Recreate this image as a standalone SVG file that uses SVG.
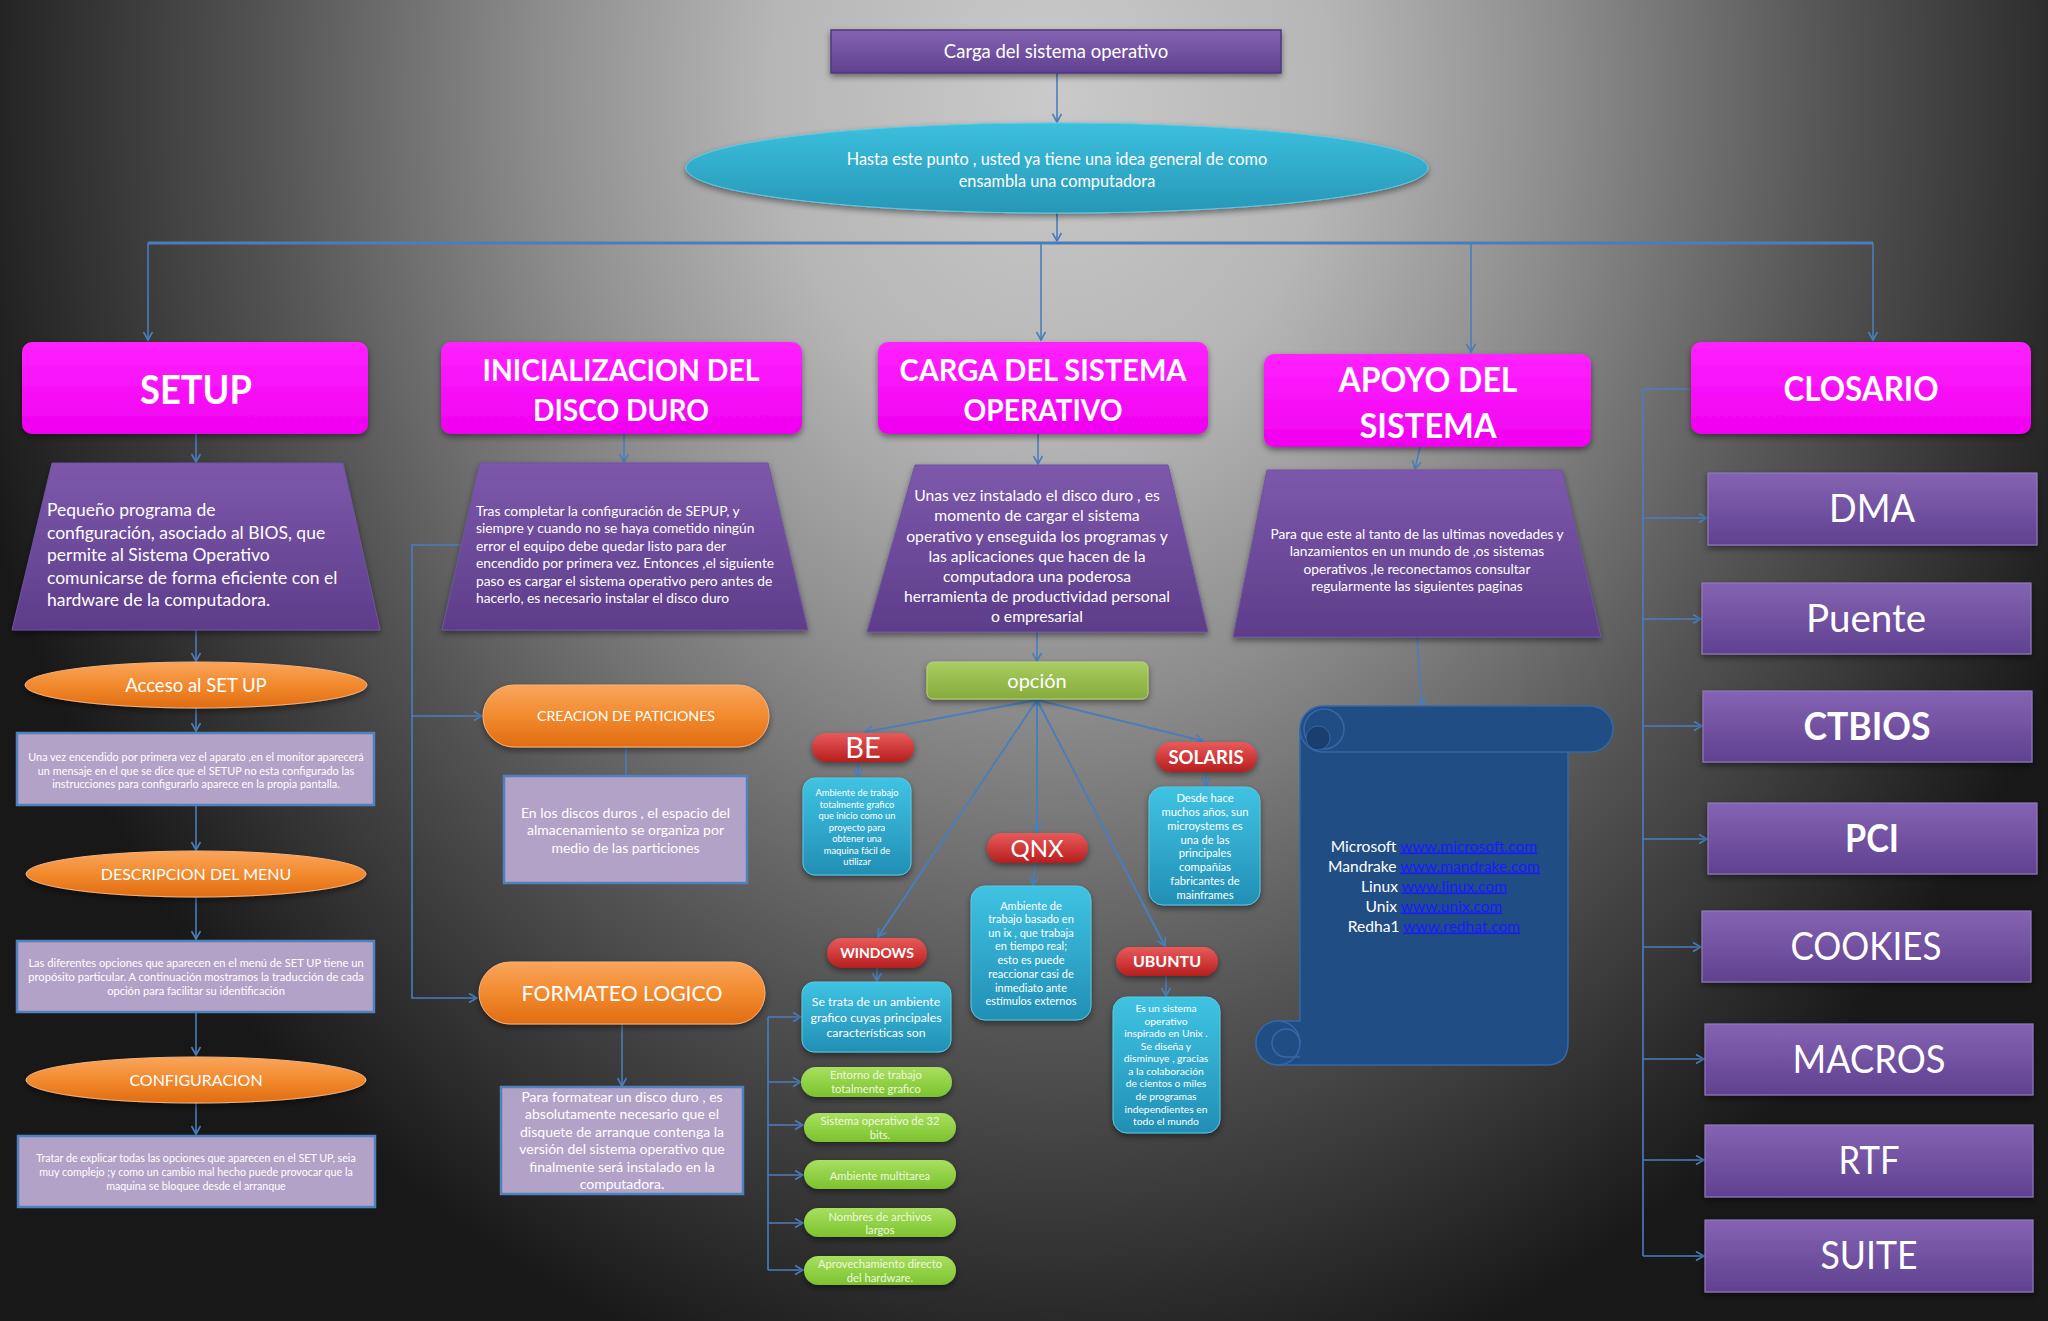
<svg xmlns="http://www.w3.org/2000/svg" width="2048" height="1321" viewBox="0 0 2048 1321">
<defs>
<radialGradient id="bg" gradientUnits="userSpaceOnUse" cx="1050" cy="90" r="1120" gradientTransform="translate(1050,90) scale(1,1.2) translate(-1050,-90)">
<stop offset="0" stop-color="#cacaca"/><stop offset="0.25" stop-color="#b6b6b6"/><stop offset="0.45" stop-color="#8e8e8e"/><stop offset="0.7" stop-color="#545454"/><stop offset="1" stop-color="#181818"/>
</radialGradient>
<linearGradient id="gPur" x1="0" y1="0" x2="0" y2="1"><stop offset="0" stop-color="#8563b3"/><stop offset="1" stop-color="#5f4190"/></linearGradient>
<linearGradient id="gTrap" x1="0" y1="0" x2="0" y2="1"><stop offset="0" stop-color="#7d58ab"/><stop offset="1" stop-color="#5d3d8a"/></linearGradient>
<linearGradient id="gMag" x1="0" y1="0" x2="0" y2="1"><stop offset="0" stop-color="#ff22ff"/><stop offset="1" stop-color="#f000f0"/></linearGradient>
<linearGradient id="gCyan" x1="0" y1="0" x2="0" y2="1"><stop offset="0" stop-color="#3cc0de"/><stop offset="1" stop-color="#2797b7"/></linearGradient>
<linearGradient id="gOr" x1="0" y1="0" x2="0" y2="1"><stop offset="0" stop-color="#f9a55c"/><stop offset="0.5" stop-color="#f28a2e"/><stop offset="1" stop-color="#e06c12"/></linearGradient>
<linearGradient id="gGreen" x1="0" y1="0" x2="0" y2="1"><stop offset="0" stop-color="#a9cd60"/><stop offset="1" stop-color="#86ab3c"/></linearGradient>
<linearGradient id="gRed" x1="0" y1="0" x2="0" y2="1"><stop offset="0" stop-color="#e85a5a"/><stop offset="1" stop-color="#b81e1e"/></linearGradient>
<linearGradient id="gBlue" x1="0" y1="0" x2="0" y2="1"><stop offset="0" stop-color="#3fc3e3"/><stop offset="1" stop-color="#228fb5"/></linearGradient>
<linearGradient id="gLime" x1="0" y1="0" x2="0" y2="1"><stop offset="0" stop-color="#a8e060"/><stop offset="1" stop-color="#7cc22e"/></linearGradient>
<filter id="sh" x="-10%" y="-20%" width="120%" height="150%"><feDropShadow dx="0" dy="3" stdDeviation="3" flood-color="#000" flood-opacity="0.45"/></filter>
<marker id="ar" markerUnits="userSpaceOnUse" markerWidth="12" markerHeight="12" refX="9" refY="5" orient="auto"><path d="M1,0.5 L9,5 L1,9.5" fill="none" stroke="#4a7ebb" stroke-width="1.6"/></marker>
</defs>
<style>
text{font-family:Lato,"Open Sans","Liberation Sans",sans-serif;fill:#ffffff}
.c{text-anchor:middle}
.b{font-weight:700}
.cn path,.cn line,.cn polyline{stroke:#4a7ebb;stroke-width:1.6;fill:none}
.mag{fill:url(#gMag);filter:url(#sh)}
.trap{fill:url(#gTrap);stroke:#6d55a0;stroke-width:1}
.lav{fill:#b3a2c7;stroke:#4f81bd;stroke-width:2.5}
.orng{fill:url(#gOr);stroke:#f6b27a;stroke-width:1;filter:url(#sh)}
.red{fill:url(#gRed);filter:url(#sh)}
.blu{fill:url(#gBlue);stroke:#5bc6e0;stroke-width:1;filter:url(#sh)}
.lime{fill:url(#gLime);filter:url(#sh)}
.gl{fill:#eef8df}
.pur{fill:url(#gPur);stroke:#8e79b8;stroke-width:1.2;filter:url(#sh)}
.lk{fill:#1a1aff;text-decoration:underline}
.big{font-size:38px}
</style>
<rect width="2048" height="1321" fill="url(#bg)"/>

<g class="cn" id="connectors">
<line x1="1057" y1="73" x2="1057" y2="122" marker-end="url(#ar)"/>
<line x1="1057" y1="213" x2="1057" y2="241" marker-end="url(#ar)"/>
<line x1="148" y1="243" x2="1873" y2="243" style="stroke-width:3"/>
<line x1="148" y1="243" x2="148" y2="340" marker-end="url(#ar)"/>
<line x1="1041" y1="243" x2="1041" y2="340" marker-end="url(#ar)"/>
<line x1="1471" y1="243" x2="1471" y2="352" marker-end="url(#ar)"/>
<line x1="1873" y1="243" x2="1873" y2="340" marker-end="url(#ar)"/>
<line x1="196" y1="434" x2="196" y2="462" marker-end="url(#ar)"/>
<line x1="196" y1="630" x2="196" y2="661" marker-end="url(#ar)"/>
<line x1="196" y1="708" x2="196" y2="731" marker-end="url(#ar)"/>
<line x1="196" y1="805" x2="196" y2="850" marker-end="url(#ar)"/>
<line x1="196" y1="897" x2="196" y2="939" marker-end="url(#ar)"/>
<line x1="196" y1="1012" x2="196" y2="1055" marker-end="url(#ar)"/>
<line x1="196" y1="1102" x2="196" y2="1134" marker-end="url(#ar)"/>
<line x1="624" y1="434" x2="624" y2="462" marker-end="url(#ar)"/>
<polyline points="461,545 412,545 412,998 477,998" marker-end="url(#ar)"/>
<line x1="412" y1="716" x2="482" y2="716" marker-end="url(#ar)"/>
<line x1="626" y1="747" x2="626" y2="775"/>
<line x1="622" y1="1024" x2="622" y2="1086" marker-end="url(#ar)"/>
<line x1="1038" y1="434" x2="1038" y2="464" marker-end="url(#ar)"/>
<line x1="1037" y1="632" x2="1037" y2="661" marker-end="url(#ar)"/>
<line x1="1037" y1="700" x2="865" y2="732" marker-end="url(#ar)" style="stroke-width:2"/>
<line x1="1037" y1="700" x2="1203" y2="741" marker-end="url(#ar)" style="stroke-width:2"/>
<line x1="1037" y1="700" x2="1037" y2="832" marker-end="url(#ar)" style="stroke-width:2"/>
<line x1="1037" y1="700" x2="878" y2="937" marker-end="url(#ar)" style="stroke-width:2"/>
<line x1="1037" y1="700" x2="1165" y2="946" marker-end="url(#ar)" style="stroke-width:2"/>
<line x1="858" y1="762" x2="858" y2="777" marker-end="url(#ar)"/>
<line x1="1035" y1="863" x2="1033" y2="885" marker-end="url(#ar)"/>
<line x1="1206" y1="772" x2="1206" y2="786" marker-end="url(#ar)"/>
<line x1="877" y1="968" x2="877" y2="981" marker-end="url(#ar)"/>
<line x1="1166" y1="976" x2="1166" y2="996" marker-end="url(#ar)"/>
<line x1="768" y1="1017" x2="768" y2="1270"/>
<line x1="768" y1="1017" x2="801" y2="1017" marker-end="url(#ar)"/>
<line x1="768" y1="1082" x2="801" y2="1082" marker-end="url(#ar)"/>
<line x1="768" y1="1125" x2="803" y2="1125" marker-end="url(#ar)"/>
<line x1="768" y1="1175" x2="803" y2="1175" marker-end="url(#ar)"/>
<line x1="768" y1="1223" x2="803" y2="1223" marker-end="url(#ar)"/>
<line x1="768" y1="1270" x2="803" y2="1270" marker-end="url(#ar)"/>
<line x1="1420" y1="447" x2="1415" y2="469" marker-end="url(#ar)"/>
<line x1="1417" y1="637" x2="1422" y2="705" marker-end="url(#ar)"/>
<polyline points="1690,389 1643,389 1643,1256"/>
<line x1="1643" y1="518" x2="1707" y2="518" marker-end="url(#ar)"/>
<line x1="1643" y1="619" x2="1701" y2="619" marker-end="url(#ar)"/>
<line x1="1643" y1="726" x2="1702" y2="726" marker-end="url(#ar)"/>
<line x1="1643" y1="839" x2="1707" y2="839" marker-end="url(#ar)"/>
<line x1="1643" y1="947" x2="1701" y2="947" marker-end="url(#ar)"/>
<line x1="1643" y1="1059" x2="1704" y2="1059" marker-end="url(#ar)"/>
<line x1="1643" y1="1160" x2="1704" y2="1160" marker-end="url(#ar)"/>
<line x1="1643" y1="1256" x2="1704" y2="1256" marker-end="url(#ar)"/>
</g>

<g id="n-top"><rect x="831" y="30" width="450" height="43" fill="url(#gPur)" stroke="#4d3a7a" stroke-width="1.5" filter="url(#sh)"/><text x="1056" y="58" class="c" font-size="18.5">Carga del sistema operativo</text></g>
<g id="n-intro"><ellipse cx="1057" cy="168" rx="371" ry="45" fill="url(#gCyan)" stroke="#5ccbe4" filter="url(#sh)"/><text x="1057" y="165" class="c" font-size="16.3">Hasta este punto , usted ya tiene una idea general de como</text><text x="1057" y="187" class="c" font-size="16.3">ensambla una computadora</text></g>

<g id="n-setup"><rect x="22" y="342" width="346" height="92" rx="10" class="mag"/><text x="196" y="404" class="c b" font-size="40" textLength="112" lengthAdjust="spacingAndGlyphs">SETUP</text></g>
<g id="n-inic"><rect x="441" y="342" width="361" height="92" rx="10" class="mag"/><text x="621" y="381" class="c b" font-size="31" textLength="277" lengthAdjust="spacingAndGlyphs">INICIALIZACION DEL</text><text x="621" y="421" class="c b" font-size="31" textLength="176" lengthAdjust="spacingAndGlyphs">DISCO DURO</text></g>
<g id="n-carga"><rect x="878" y="342" width="330" height="92" rx="10" class="mag"/><text x="1043" y="381" class="c b" font-size="31" textLength="287" lengthAdjust="spacingAndGlyphs">CARGA DEL SISTEMA</text><text x="1043" y="421" class="c b" font-size="31" textLength="159" lengthAdjust="spacingAndGlyphs">OPERATIVO</text></g>
<g id="n-apoyo"><rect x="1264" y="354" width="327" height="93" rx="10" class="mag"/><text x="1428" y="392" class="c b" font-size="35" textLength="179" lengthAdjust="spacingAndGlyphs">APOYO DEL</text><text x="1428" y="438" class="c b" font-size="35" textLength="137" lengthAdjust="spacingAndGlyphs">SISTEMA</text></g>
<g id="n-closario"><rect x="1691" y="342" width="340" height="92" rx="10" class="mag"/><text x="1861" y="401" class="c b" font-size="35" textLength="155" lengthAdjust="spacingAndGlyphs">CLOSARIO</text></g>

<g id="n-setup-desc"><polygon points="52,463 343,463 380,630 12,630" class="trap" filter="url(#sh)"/>
<text font-size="17.5"><tspan x="47" y="516">Pequeño programa de</tspan><tspan x="47" y="538.5">configuración, asociado al BIOS, que</tspan><tspan x="47" y="561">permite al Sistema Operativo</tspan><tspan x="47" y="583.5">comunicarse de forma eficiente con el</tspan><tspan x="47" y="606">hardware de la computadora.</tspan></text></g>
<g id="n-acceso"><ellipse cx="196" cy="685" rx="171" ry="23" class="orng"/><text x="196" y="691.5" class="c" font-size="18.5">Acceso al SET UP</text></g>
<g id="n-acceso-txt"><rect x="17" y="733" width="357" height="72" class="lav"/><text class="c" font-size="10.9"><tspan x="196" y="760.5">Una vez encendido por primera vez el aparato ,en el monitor aparecerá</tspan><tspan x="196" y="774.5">un mensaje en el que se dice que el SETUP no esta configurado  las</tspan><tspan x="196" y="788">instrucciones para configurarlo  aparece en la propia pantalla.</tspan></text></g>
<g id="n-menu"><ellipse cx="196" cy="874" rx="170" ry="23" class="orng"/><text x="196" y="880" class="c" font-size="16">DESCRIPCION DEL MENU</text></g>
<g id="n-menu-txt"><rect x="17" y="941" width="357" height="71" class="lav"/><text class="c" font-size="11.1"><tspan x="196" y="966.5">Las diferentes opciones que aparecen en el menú de SET UP tiene un</tspan><tspan x="196" y="980.5">propósito particular. A continuación mostramos la traducción de cada</tspan><tspan x="196" y="994.5">opción para facilitar su identificación</tspan></text></g>
<g id="n-config"><ellipse cx="196" cy="1080" rx="170" ry="23" class="orng"/><text x="196" y="1086" class="c" font-size="16">CONFIGURACION</text></g>
<g id="n-config-txt"><rect x="18" y="1136" width="357" height="71" class="lav"/><text class="c" font-size="10.7"><tspan x="196" y="1162">Tratar de explicar todas las opciones que aparecen en el SET UP, seia</tspan><tspan x="196" y="1176">muy complejo ;y como un cambio mal hecho puede provocar que la</tspan><tspan x="196" y="1190">maquina se bloquee desde el arranque</tspan></text></g>

<g id="n-inic-desc"><polygon points="480,463 768,463 808,630 442,630" class="trap" filter="url(#sh)"/>
<text font-size="13.8"><tspan x="476" y="515.5">Tras completar la configuración de  SEPUP, y</tspan><tspan x="476" y="533">siempre y cuando no se haya cometido ningún</tspan><tspan x="476" y="550.5">error el equipo debe quedar listo para der</tspan><tspan x="476" y="568">encendido por primera vez. Entonces ,el siguiente</tspan><tspan x="476" y="585.5">paso es cargar el sistema operativo pero antes de</tspan><tspan x="476" y="603">hacerlo, es necesario instalar el disco duro</tspan></text></g>
<g id="n-particiones"><rect x="483" y="685" width="286" height="62" rx="31" class="orng"/><text x="626" y="721" class="c" font-size="14.2">CREACION DE PATICIONES</text></g>
<g id="n-particiones-txt"><rect x="504" y="776" width="243" height="107" class="lav"/><text class="c" font-size="14"><tspan x="625.5" y="817.5">En los discos duros , el espacio del</tspan><tspan x="625.5" y="835">almacenamiento se organiza por</tspan><tspan x="625.5" y="852.5">medio de las particiones</tspan></text></g>
<g id="n-formateo"><rect x="479" y="962" width="286" height="62" rx="31" class="orng"/><text x="622" y="1000.5" class="c" font-size="21.2">FORMATEO LOGICO</text></g>
<g id="n-formateo-txt"><rect x="501" y="1087" width="242" height="107" class="lav"/><text class="c" font-size="14"><tspan x="622" y="1101.5">Para formatear un disco duro , es</tspan><tspan x="622" y="1119">absolutamente necesario que el</tspan><tspan x="622" y="1136.5">disquete de arranque contenga la</tspan><tspan x="622" y="1154">versión del sistema operativo que</tspan><tspan x="622" y="1171.5">finalmente será instalado en la</tspan><tspan x="622" y="1189">computadora.</tspan></text></g>

<g id="n-carga-desc"><polygon points="915,465 1168,465 1208,632 867,632" class="trap" filter="url(#sh)"/>
<text class="c" font-size="15.7"><tspan x="1037" y="501">Unas vez instalado el disco duro , es</tspan><tspan x="1037" y="521">momento de cargar el sistema</tspan><tspan x="1037" y="542">operativo y enseguida los programas y</tspan><tspan x="1037" y="562">las aplicaciones que hacen de la</tspan><tspan x="1037" y="582">computadora una poderosa</tspan><tspan x="1037" y="602">herramienta de productividad personal</tspan><tspan x="1037" y="622">o empresarial</tspan></text></g>
<g id="n-opcion"><rect x="927" y="662" width="221" height="37" rx="6" fill="url(#gGreen)" stroke="#b5d47a" filter="url(#sh)"/><text x="1037" y="688" class="c" font-size="20">opción</text></g>

<g id="n-be"><rect x="812" y="733" width="102" height="29" rx="14.5" class="red"/><text x="863" y="758" class="c" font-size="29">BE</text></g>
<g id="n-be-txt"><rect x="803" y="778" width="108" height="97" rx="12" class="blu"/><text class="c" font-size="9.3"><tspan x="857" y="796">Ambiente de trabajo</tspan><tspan x="857" y="807.5">totalmente grafico</tspan><tspan x="857" y="819">que inicio como  un</tspan><tspan x="857" y="830.5">proyecto para</tspan><tspan x="857" y="842">obtener una</tspan><tspan x="857" y="853.5">maquina fácil de</tspan><tspan x="857" y="865">utilizar</tspan></text></g>
<g id="n-qnx"><rect x="987" y="833" width="101" height="30" rx="15" class="red"/><text x="1037" y="857" class="c" font-size="24">QNX</text></g>
<g id="n-qnx-txt"><rect x="971" y="886" width="120" height="134" rx="14" class="blu"/><text class="c" font-size="11"><tspan x="1031" y="909.5">Ambiente de</tspan><tspan x="1031" y="923">trabajo basado en</tspan><tspan x="1031" y="936.5">un ix , que trabaja</tspan><tspan x="1031" y="950">en tiempo real;</tspan><tspan x="1031" y="964">esto es puede</tspan><tspan x="1031" y="977.5">reaccionar casi de</tspan><tspan x="1031" y="991.5">inmediato ante</tspan><tspan x="1031" y="1005">estímulos externos</tspan></text></g>
<g id="n-solaris"><rect x="1156" y="742" width="101" height="30" rx="15" class="red"/><text x="1206" y="764" class="c b" font-size="18.5">SOLARIS</text></g>
<g id="n-solaris-txt"><rect x="1149" y="787" width="111" height="118" rx="14" class="blu"/><text class="c" font-size="11.2"><tspan x="1205" y="801.5">Desde hace</tspan><tspan x="1205" y="815.5">muchos años, sun</tspan><tspan x="1205" y="829.5">microystems es</tspan><tspan x="1205" y="843.5">una de las</tspan><tspan x="1205" y="856.5">principales</tspan><tspan x="1205" y="870.5">compañías</tspan><tspan x="1205" y="884.5">fabricantes de</tspan><tspan x="1205" y="898.5">mainframes</tspan></text></g>
<g id="n-windows"><rect x="827" y="938" width="100" height="30" rx="15" class="red"/><text x="877" y="958" class="c b" font-size="14">WINDOWS</text></g>
<g id="n-windows-txt"><rect x="802" y="982" width="149" height="70" rx="12" class="blu"/><text class="c" font-size="12.3"><tspan x="876" y="1006">Se trata de un ambiente</tspan><tspan x="876" y="1022">grafico cuyas principales</tspan><tspan x="876" y="1037">características son</tspan></text></g>
<g id="n-w1"><rect x="801" y="1067" width="151" height="30" rx="15" class="lime"/><text class="c gl" font-size="11.2"><tspan x="876" y="1079">Entorno de trabajo</tspan><tspan x="876" y="1093">totalmente grafico</tspan></text></g>
<g id="n-w2"><rect x="804" y="1113" width="152" height="29" rx="14.5" class="lime"/><text class="c gl" font-size="11.2"><tspan x="880" y="1124.5">Sistema operativo de 32</tspan><tspan x="880" y="1138.5">bits.</tspan></text></g>
<g id="n-w3"><rect x="804" y="1160" width="152" height="29" rx="14.5" class="lime"/><text x="880" y="1180" class="c gl" font-size="11.2">Ambiente multitarea</text></g>
<g id="n-w4"><rect x="804" y="1208" width="152" height="29" rx="14.5" class="lime"/><text class="c gl" font-size="11.2"><tspan x="880" y="1220.5">Nombres de archivos</tspan><tspan x="880" y="1234">largos</tspan></text></g>
<g id="n-w5"><rect x="804" y="1256" width="152" height="29" rx="14.5" class="lime"/><text class="c gl" font-size="11.2"><tspan x="880" y="1268">Aprovechamiento directo</tspan><tspan x="880" y="1282">del hardware.</tspan></text></g>
<g id="n-ubuntu"><rect x="1116" y="947" width="102" height="29" rx="14.5" class="red"/><text x="1167" y="967" class="c b" font-size="16">UBUNTU</text></g>
<g id="n-ubuntu-txt"><rect x="1113" y="997" width="107" height="136" rx="14" class="blu"/><text class="c" font-size="10.3"><tspan x="1166" y="1012">Es un sistema</tspan><tspan x="1166" y="1025">operativo</tspan><tspan x="1166" y="1037">inspirado en Unix .</tspan><tspan x="1166" y="1050">Se diseña y</tspan><tspan x="1166" y="1062">disminuye , gracias</tspan><tspan x="1166" y="1075">a la colaboración</tspan><tspan x="1166" y="1087">de cientos o miles</tspan><tspan x="1166" y="1100">de programas</tspan><tspan x="1166" y="1113">independientes en</tspan><tspan x="1166" y="1125">todo el mundo</tspan></text></g>

<g id="n-apoyo-desc"><polygon points="1267,470 1562,470 1601,637 1233,637" class="trap" filter="url(#sh)"/>
<text class="c" font-size="13.7"><tspan x="1417" y="538.5">Para que este al tanto de las ultimas novedades y</tspan><tspan x="1417" y="556">lanzamientos en un mundo de ,os sistemas</tspan><tspan x="1417" y="573.5">operativos ,le reconectamos consultar</tspan><tspan x="1417" y="591">regularmente las siguientes paginas</tspan></text></g>
<g id="n-scroll">
<path d="M1300,729 L1568,729 L1568,1043 Q1568,1065 1546,1065 L1278,1065 A22,22 0 0 1 1278,1021 L1300,1021 Z" fill="#214d85" stroke="#3667a6" stroke-width="1.5"/>
<circle cx="1278" cy="1043" r="22" fill="#214d85" stroke="#3667a6" stroke-width="1.5"/>
<path d="M1300,1043 A14,14 0 1 0 1286,1057 L1300,1057" fill="none" stroke="#3667a6" stroke-width="1.5"/>
<rect x="1300" y="706" width="313" height="46" rx="23" fill="#214d85" stroke="#3667a6" stroke-width="1.5"/>
<circle cx="1324" cy="729" r="20" fill="#214d85" stroke="#3667a6" stroke-width="1.5"/>
<circle cx="1318" cy="738" r="12" fill="#1a3e6e" stroke="#3667a6" stroke-width="1"/>
<text class="c" font-size="15.6"><tspan x="1434" y="851.5">Microsoft <tspan class="lk">www.microsoft.com</tspan></tspan><tspan x="1434" y="871.5">Mandrake <tspan class="lk">www.mandrake.com</tspan></tspan><tspan x="1434" y="891.5">Linux <tspan class="lk">www.linux.com</tspan></tspan><tspan x="1434" y="911.5">Unix <tspan class="lk">www.unix.com</tspan></tspan><tspan x="1434" y="931.5">Redha1 <tspan class="lk">www.redhat.com</tspan></tspan></text>
</g>

<g id="n-dma"><rect x="1708" y="473" width="329" height="72" class="pur"/><text x="1872" y="522" class="c big" textLength="86" lengthAdjust="spacingAndGlyphs">DMA</text></g>
<g id="n-puente"><rect x="1702" y="583" width="329" height="71" class="pur"/><text x="1866" y="632" class="c big" textLength="120" lengthAdjust="spacingAndGlyphs">Puente</text></g>
<g id="n-ctbios"><rect x="1703" y="691" width="329" height="71" class="pur"/><text x="1867" y="740" class="c b big" textLength="127" lengthAdjust="spacingAndGlyphs">CTBIOS</text></g>
<g id="n-pci"><rect x="1708" y="803" width="329" height="71" class="pur"/><text x="1872" y="852" class="c b big" textLength="54" lengthAdjust="spacingAndGlyphs">PCI</text></g>
<g id="n-cookies"><rect x="1702" y="911" width="329" height="71" class="pur"/><text x="1866" y="960" class="c big" textLength="151" lengthAdjust="spacingAndGlyphs">COOKIES</text></g>
<g id="n-macros"><rect x="1705" y="1024" width="328" height="71" class="pur"/><text x="1869" y="1073" class="c big" textLength="153" lengthAdjust="spacingAndGlyphs">MACROS</text></g>
<g id="n-rtf"><rect x="1705" y="1125" width="328" height="72" class="pur"/><text x="1869" y="1174" class="c big" textLength="61" lengthAdjust="spacingAndGlyphs">RTF</text></g>
<g id="n-suite"><rect x="1705" y="1220" width="328" height="72" class="pur"/><text x="1869" y="1269" class="c big" textLength="97" lengthAdjust="spacingAndGlyphs">SUITE</text></g>
</svg>
